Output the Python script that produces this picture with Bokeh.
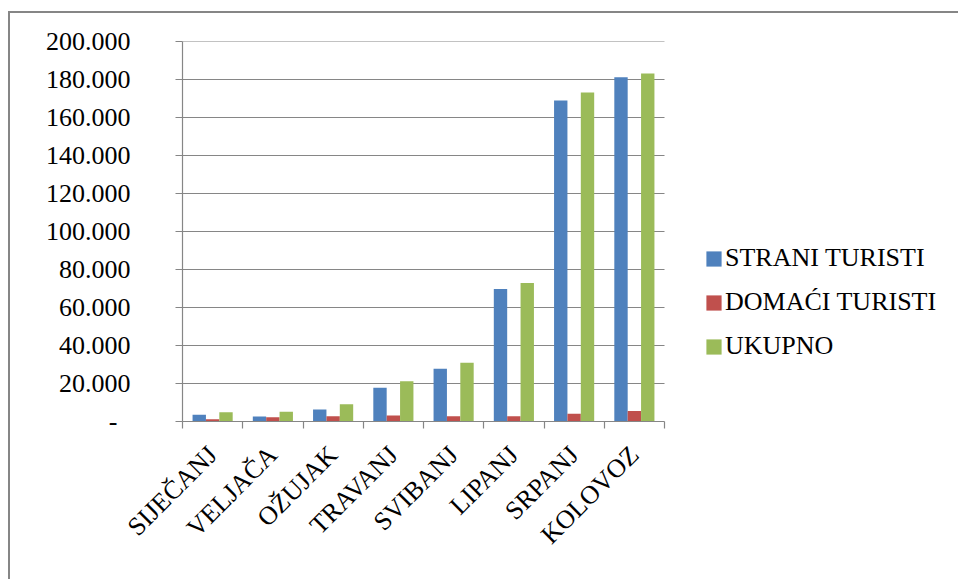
import math
from bokeh.plotting import figure
from bokeh.models import (ColumnDataSource, FixedTicker, CustomJSTickFormatter,
                          Legend, LegendItem, Range1d)
from bokeh.embed import file_html
from bokeh.resources import INLINE

months = ["SIJEČANJ", "VELJAČA", "OŽUJAK", "TRAVANJ", "SVIBANJ", "LIPANJ", "SRPANJ", "KOLOVOZ"]
strani = [3500, 2600, 6300, 17700, 27700, 69700, 168900, 181200]
domaci = [1200, 2300, 2800, 3200, 2800, 2700, 4100, 5500]
ukupno = [4900, 5100, 9100, 21200, 30900, 72900, 173200, 183100]
series_names = ["STRANI TURISTI", "DOMAĆI TURISTI", "UKUPNO"]
colors = ["#4F81BD", "#C0504D", "#9BBB59"]
y_ticks = [0, 20000, 40000, 60000, 80000, 100000, 120000, 140000, 160000, 180000, 200000]

FONT = "'Liberation Serif', 'Times New Roman', serif"
GRAY = "#868686"

W, H = 950, 568
LEFT, TOP, BOTTOM = 172, 28, 160
n = len(months)
frame_w = W - LEFT
x_end = n * frame_w / 482.0

p = figure(width=W, height=H, output_backend="svg", toolbar_location=None,
           x_range=Range1d(0, x_end), y_range=Range1d(0, 200000),
           min_border_left=LEFT, min_border_top=TOP, min_border_bottom=BOTTOM,
           min_border_right=0)
p.outline_line_color = None
p.background_fill_color = "white"
p.border_fill_color = "white"
p.styles = {"border-top": "2px solid #868686", "border-left": "2px solid #868686",
            "margin-left": "8px", "margin-top": "11px"}

# gridlines (drawn only across the category area)
gy = y_ticks[1:]
p.segment(x0=[0] * len(gy), x1=[n] * len(gy), y0=gy, y1=gy,
          line_color=GRAY, line_width=1.2, level="underlay")

bw = 0.222
centers = [i + 0.5 for i in range(n)]
renderers = []
for k, (vals, col) in enumerate(zip([strani, domaci, ukupno], colors)):
    src = ColumnDataSource(dict(x=[c + (k - 1) * bw for c in centers], top=vals))
    r = p.vbar(x="x", top="top", width=bw, bottom=0, source=src,
               fill_color=col, line_color=None)
    renderers.append(r)

# y axis
p.yaxis.ticker = FixedTicker(ticks=y_ticks, minor_ticks=[])
p.yaxis.formatter = CustomJSTickFormatter(code="""
if (tick == 0) { return '-\u00a0\u00a0'; }
var s = Math.round(tick).toString();
return s.replace(/\\B(?=(\\d{3})+(?!\\d))/g, '.');
""")
p.yaxis.axis_line_color = GRAY
p.yaxis.axis_line_width = 1.2
p.yaxis.major_tick_line_color = GRAY
p.yaxis.major_tick_line_width = 1.2
p.yaxis.major_tick_out = 7
p.yaxis.major_tick_in = 0
p.yaxis.minor_tick_line_color = None
p.yaxis.major_label_standoff = 45
p.yaxis.major_label_text_font = FONT
p.yaxis.major_label_text_font_size = "26px"
p.yaxis.major_label_text_color = "black"

# x axis: labels at centers, tick marks at boundaries (minor ticks)
p.xaxis.ticker = FixedTicker(ticks=centers, minor_ticks=list(range(n + 1)))
p.xaxis.bounds = (0, n)
p.xaxis.major_label_overrides = {c: m for c, m in zip(centers, months)}
p.xaxis.axis_line_color = GRAY
p.xaxis.axis_line_width = 1.2
p.xaxis.major_tick_line_color = None
p.xaxis.major_tick_out = 0
p.xaxis.major_tick_in = 0
p.xaxis.minor_tick_line_color = GRAY
p.xaxis.minor_tick_line_width = 1.2
p.xaxis.minor_tick_out = 7
p.xaxis.minor_tick_in = 0
p.xaxis.major_label_orientation = math.pi / 4
p.xaxis.major_label_standoff = 22
p.xaxis.major_label_text_font = FONT
p.xaxis.major_label_text_font_size = "26px"
p.xaxis.major_label_text_color = "black"

p.xgrid.grid_line_color = None
p.ygrid.grid_line_color = None

legend = Legend(items=[LegendItem(label=nm, renderers=[r]) for nm, r in zip(series_names, renderers)],
                location=(522, 53), padding=0, margin=0, spacing=0,
                glyph_width=19, glyph_height=19, label_height=44, label_standoff=2,
                label_text_font=FONT, label_text_font_size="26px", label_text_color="black",
                border_line_color=None, background_fill_alpha=0)
p.add_layout(legend, "center")

open("out.html", "w").write(file_html(p, INLINE))
